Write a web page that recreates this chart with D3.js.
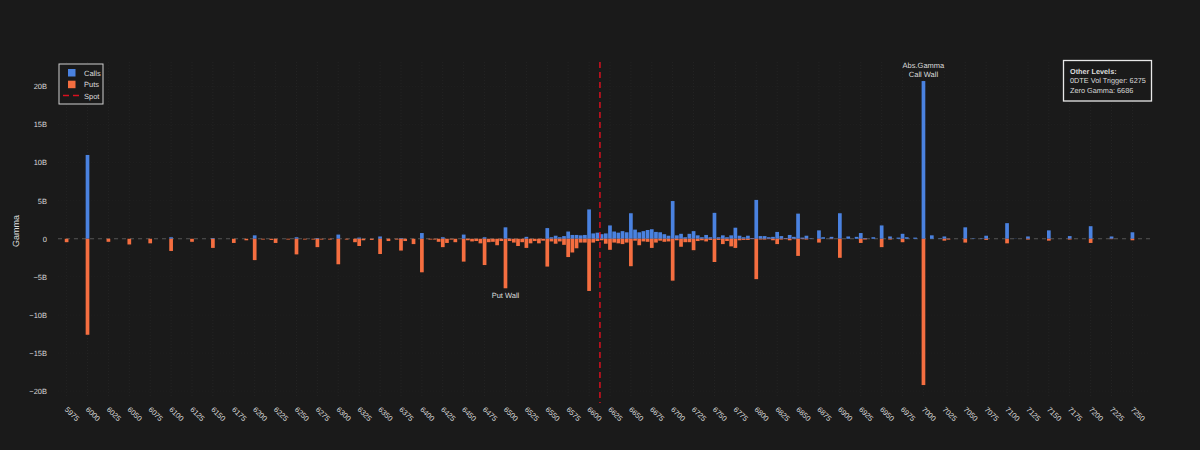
<!DOCTYPE html>
<html>
<head>
<meta charset="utf-8">
<script src="https://cdn.jsdelivr.net/npm/d3@7"></script>
<style>
  html, body { margin: 0; padding: 0; background: #1a1a1a; }
  text { font-family: "Liberation Sans", Arial, sans-serif; text-rendering: geometricPrecision; }
</style>
</head>
<body>
<div id="chart"></div>
<script>
// Strikes and gamma (in billions)
var strikes = [5975,6000,6025,6050,6075,6100,6125,6150,6175,6190,6200,6210,6220,6225,6240,6250,6260,6270,6275,6280,6290,
  6300,6310,6320,6325,6330,6340,6350,6360,6370,6375,6380,6390,6400,6410,6415,6420,6425,6430,6435,6440,6450,6455,6460,6465,6470,6475,6480,6485,6490,6495,
  6500,6505,6510,6515,6520,6525,6530,6535,6540,6545,6550,6555,6560,6565,6570,6575,6580,6585,6590,6595,
  6600,6605,6610,6615,6620,6625,6630,6635,6640,6645,6650,6655,6660,6665,6670,6675,6680,6685,6690,6695,
  6700,6705,6710,6715,6720,6725,6730,6735,6740,6745,6750,6755,6760,6765,6770,6775,6780,6785,6790,6795,
  6800,6805,6810,6815,6820,6825,6830,6835,6840,6845,6850,6855,6860,6865,6875,6880,6890,
  6900,6910,6920,6925,6930,6940,6950,6960,6970,6975,6980,6990,
  7000,7010,7020,7025,7030,7050,7060,7070,7075,7100,7110,7125,7150,7175,7200,7225,7250];

var callGamma = [0,11,0,0,0,0.2,0,0.1,0,0,0.45,0,0,0,0,0.2,0,0,0.1,0,0,
  0.55,0,0,0.15,0,0,0.3,0,0,0.1,0,0,0.75,0,0,0,0.2,0,0,0,0.55,0,0,0,0,0.2,0,0,0,0,
  1.5,0.05,0,0,0,0.25,0,0,0,0,1.4,0.2,0.4,0.2,0.35,0.95,0.5,0.5,0.45,0.5,
  3.85,0.7,0.8,0.6,0.7,1.75,0.95,0.8,1.0,0.85,3.35,1.2,0.85,1.0,1.15,1.25,0.9,0.85,0.6,0.4,
  4.95,0.45,0.65,0.2,0.65,1.0,0.45,0.2,0.5,0.2,3.4,0.2,0.45,0.2,0.45,1.45,0.4,0.2,0.4,0.1,
  5.1,0.35,0.35,0.2,0.25,0.9,0.35,0.1,0.5,0.25,3.3,0.15,0.4,0.05,1.1,0.2,0.25,
  3.35,0.3,0.25,0.75,0.1,0.2,1.75,0.3,0.15,0.65,0.2,0.15,
  20.7,0.45,0.05,0.3,0.02,1.5,0.05,0.05,0.4,2.05,0.02,0.3,1.1,0.35,1.65,0.3,0.85];

var putGamma = [-0.45,-12.6,-0.4,-0.75,-0.6,-1.6,-0.4,-1.2,-0.55,-0.2,-2.8,-0.1,-0.15,-0.55,-0.1,-2.05,-0.1,-0.1,-1.1,-0.1,-0.1,
  -3.35,-0.1,-0.45,-0.95,-0.2,-0.15,-2.0,-0.3,-0.1,-1.55,-0.3,-0.7,-4.4,-0.1,-0.1,-0.4,-1.1,-0.55,-0.1,-0.45,-3.0,-0.2,-0.35,-0.3,-0.6,-3.45,-0.45,-0.4,-0.85,-0.3,
  -6.5,-0.3,-0.5,-0.95,-0.45,-1.2,-0.6,-0.3,-0.6,-0.25,-3.65,-0.35,-0.65,-0.35,-0.8,-2.4,-1.8,-1.25,-0.5,-0.5,
  -6.85,-0.5,-0.3,-0.2,-0.65,-1.45,-0.5,-0.6,-0.7,-0.5,-3.6,-0.25,-0.85,-0.35,-0.4,-1.2,-0.5,-0.25,-0.4,-0.35,
  -5.5,-0.2,-1.05,-0.45,-0.45,-1.5,-0.3,-0.2,-0.35,-0.15,-3.05,-0.15,-0.7,-0.3,-1.0,-1.2,-0.2,-0.15,-0.15,-0.05,
  -5.3,-0.1,-0.1,-0.05,-0.2,-0.7,-0.1,-0.05,-0.2,-0.05,-2.25,-0.05,-0.1,0,-0.5,0,-0.05,
  -2.5,0,0,-0.55,-0.1,0,-1.1,-0.1,0,-0.45,0,0,
  -19.2,0,0,-0.25,-0.1,-0.5,0,0,-0.15,-0.6,0,-0.1,-0.25,-0.1,-0.55,-0.05,-0.2];

var xTicks = [5975,6000,6025,6050,6075,6100,6125,6150,6175,6200,6225,6250,6275,6300,6325,6350,6375,6400,6425,6450,6475,
  6500,6525,6550,6575,6600,6625,6650,6675,6700,6725,6750,6775,6800,6825,6850,6875,6900,6925,6950,6975,
  7000,7025,7050,7075,7100,7125,7150,7175,7200,7225,7250];
var yTicks = [-20,-15,-10,-5,0,5,10,15,20];
var legendLabels = ["Calls", "Puts", "Spot"];
var otherLevels = ["Other Levels:", "0DTE Vol Trigger: 6275", "Zero Gamma: 6686"];
var spot = 6613;
var xDomain = [5964.7, 7271];
var yDomain = [-20.9, 23.2];

var width = 1200, height = 450;
var callColor = "#4a82e0", putColor = "#f56e40", spotColor = "#d8101f", textColor = "#dcdcdc";

var svg = d3.select("#chart").append("svg")
  .attr("width", width)
  .attr("height", height)
  .style("display", "block")
  .style("opacity", 0.999);

svg.append("rect").attr("width", width).attr("height", height).attr("fill", "#1a1a1a");

var x = d3.scaleLinear().domain(xDomain).range([58, 1150]);
var y = d3.scaleLinear().domain(yDomain).range([398, 62]);
var barWidth = 3.7;

// Grid lines are barely visible against the background
var grid = svg.append("g");
grid.selectAll("line.vgrid").data(xTicks).join("line")
  .attr("class", "vgrid")
  .attr("x1", d => x(d)).attr("x2", d => x(d))
  .attr("y1", 62).attr("y2", 398)
  .attr("stroke", "#282828").attr("stroke-width", 0.7).attr("stroke-dasharray", "1,2");
grid.selectAll("line.hgrid").data(yTicks).join("line")
  .attr("class", "hgrid")
  .attr("x1", 58).attr("x2", 1150)
  .attr("y1", d => y(d)).attr("y2", d => y(d))
  .attr("stroke", "#212121").attr("stroke-width", 0.7).attr("stroke-dasharray", "1,2");

// Zero line
svg.append("line")
  .attr("x1", 58).attr("x2", 1150)
  .attr("y1", y(0)).attr("y2", y(0))
  .attr("stroke", "#666").attr("stroke-width", 0.8).attr("stroke-dasharray", "4,4");

// Calls go up, puts go down
svg.append("g").selectAll("rect").data(strikes).join("rect")
  .attr("x", d => x(d) - barWidth / 2)
  .attr("width", barWidth)
  .attr("y", (d, i) => y(callGamma[i]))
  .attr("height", (d, i) => y(0) - y(callGamma[i]))
  .attr("fill", callColor);

svg.append("g").selectAll("rect").data(strikes).join("rect")
  .attr("x", d => x(d) - barWidth / 2)
  .attr("width", barWidth)
  .attr("y", y(0))
  .attr("height", (d, i) => y(putGamma[i]) - y(0))
  .attr("fill", putColor);

// Spot line
svg.append("line")
  .attr("x1", x(spot)).attr("x2", x(spot))
  .attr("y1", 62).attr("y2", 403)
  .attr("stroke", spotColor).attr("stroke-width", 1.5).attr("stroke-dasharray", "6,4");

// Axes
var xAxis = d3.axisBottom(x).tickValues(xTicks).tickFormat(d3.format("d")).tickSize(0);
var xG = svg.append("g").attr("transform", "translate(0,398)").call(xAxis);
xG.select(".domain").remove();
xG.selectAll("text")
  .attr("y", 0)
  .attr("dy", "0.35em")
  .attr("transform", "translate(5,16) rotate(45)")
  .attr("text-anchor", "middle")
  .attr("fill", textColor)
  .style("font-size", "7.5px")
  .style("font-family", '"Liberation Sans", Arial, sans-serif');

var yAxis = d3.axisLeft(y).tickValues(yTicks)
  .tickFormat(d => d === 0 ? "0" : String(d).replace("-", "\u2212") + "B")
  .tickSize(0);
var yG = svg.append("g").attr("transform", "translate(47,0)").call(yAxis);
yG.select(".domain").remove();
yG.selectAll("text")
  .attr("x", 0)
  .attr("fill", textColor)
  .style("font-size", "7.5px")
  .style("font-family", '"Liberation Sans", Arial, sans-serif');

svg.append("text")
  .attr("transform", "translate(19,231) rotate(-90)")
  .attr("text-anchor", "middle")
  .attr("fill", textColor)
  .style("font-size", "9px")
  .text("Gamma");

// Wall annotations
svg.append("text").attr("x", x(7000)).attr("y", 68).attr("text-anchor", "middle")
  .attr("fill", textColor).style("font-size", "7.5px").text("Abs.Gamma");
svg.append("text").attr("x", x(7000)).attr("y", 77).attr("text-anchor", "middle")
  .attr("fill", textColor).style("font-size", "7.5px").text("Call Wall");
svg.append("text").attr("x", x(6500)).attr("y", 297.5).attr("text-anchor", "middle")
  .attr("fill", textColor).style("font-size", "7.5px").text("Put Wall");

// Legend
var legend = svg.append("g").attr("transform", "translate(59,64)");
legend.append("rect").attr("width", 44).attr("height", 40)
  .attr("fill", "#1a1a1a").attr("stroke", "#d0d0d0").attr("stroke-width", 1);
legend.selectAll("rect.swatch").data(legendLabels.slice(0, 2)).join("rect")
  .attr("class", "swatch")
  .attr("x", 9).attr("y", (d, i) => 5 + i * 11.7)
  .attr("width", 7.5).attr("height", 7.5)
  .attr("fill", (d, i) => i === 0 ? callColor : putColor);
legend.append("line").attr("x1", 4).attr("x2", 20).attr("y1", 31.5).attr("y2", 31.5)
  .attr("stroke", spotColor).attr("stroke-width", 1.5).attr("stroke-dasharray", "6,4");
legend.selectAll("text.label").data(legendLabels).join("text")
  .attr("class", "label")
  .attr("x", 25).attr("y", (d, i) => 11.5 + i * 11.7)
  .attr("fill", textColor).style("font-size", "7.5px").text(d => d);

// Other levels box
var levels = svg.append("g").attr("transform", "translate(1063.5,60.5)");
levels.append("rect").attr("width", 88).attr("height", 40.5)
  .attr("fill", "#1a1a1a").attr("stroke", "#e8e8e8").attr("stroke-width", 1.3);
levels.selectAll("text").data(otherLevels).join("text")
  .attr("x", 6.5).attr("y", (d, i) => 13 + i * 9.6)
  .attr("fill", textColor)
  .style("font-size", "7.3px")
  .style("font-weight", (d, i) => i === 0 ? "bold" : "normal")
  .text(d => d);
</script>
</body>
</html>
